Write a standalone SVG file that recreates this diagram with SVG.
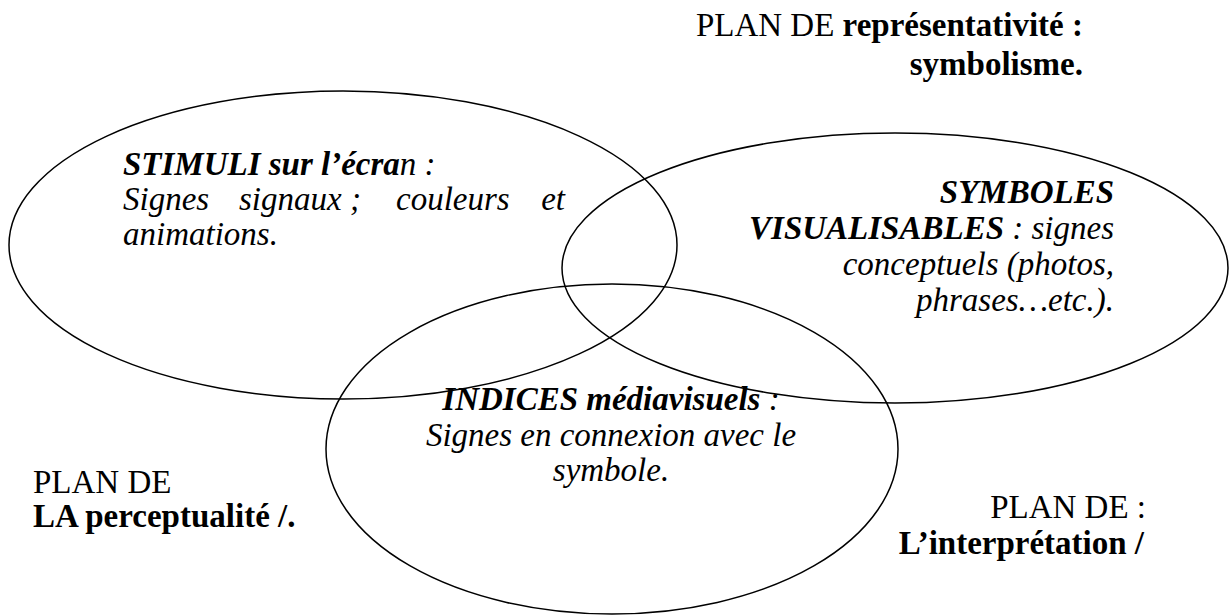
<svg xmlns="http://www.w3.org/2000/svg" width="1231" height="616" viewBox="0 0 1231 616">
<style>
text{font-family:"Liberation Serif","Times New Roman",serif;font-size:33px;fill:#000}
.b{font-weight:bold}
.i{font-style:italic}
.r{font-weight:normal}
.e{fill:none;stroke:#000;stroke-width:1.5}
</style>
<rect width="1231" height="616" fill="#fff"/>
<g id="ellipses">
<ellipse id="e-stimuli" class="e" cx="343" cy="245" rx="334" ry="154"/>
<ellipse id="e-symboles" class="e" cx="895" cy="268" rx="333" ry="135"/>
<ellipse id="e-indices" class="e" cx="612" cy="449" rx="286" ry="165"/>
</g>
<g id="plan-representativite">
<text x="1083" y="36" text-anchor="end">PLAN DE <tspan class="b">représentativité :</tspan></text>
<text x="1083" y="75" text-anchor="end" class="b">symbolisme.</text>
</g>
<g id="stimuli">
<text x="123" y="175" class="i"><tspan class="b">STIMULI sur l’écra</tspan>n :</text>
<text x="123" y="210" class="i">Signes</text>
<text x="239" y="210" class="i">signaux ;</text>
<text x="396" y="210" class="i">couleurs</text>
<text x="565" y="210" class="i" text-anchor="end">et</text>
<text x="123" y="245" class="i">animations.</text>
</g>
<g id="symboles">
<text x="1114" y="203" class="i b" text-anchor="end">SYMBOLES</text>
<text x="1114" y="239" class="i" text-anchor="end"><tspan class="b">VISUALISABLES</tspan> : signes</text>
<text x="1114" y="275" class="i" text-anchor="end">conceptuels (photos,</text>
<text x="1114" y="311" class="i" text-anchor="end">phrases…etc.).</text>
</g>
<g id="indices">
<text x="611" y="410" class="i" text-anchor="middle"><tspan class="b">INDICES médiavisuels</tspan> :</text>
<text x="611" y="446" class="i" text-anchor="middle">Signes en connexion avec le</text>
<text x="611" y="481" class="i" text-anchor="middle">symbole.</text>
</g>
<g id="plan-perceptualite">
<text x="33" y="493">PLAN DE</text>
<text x="33" y="527" class="b">LA perceptualité /.</text>
</g>
<g id="plan-interpretation">
<text x="1146" y="518" text-anchor="end">PLAN DE :</text>
<text x="1144" y="554" text-anchor="end" class="b">L’interprétation /</text>
</g>
</svg>
